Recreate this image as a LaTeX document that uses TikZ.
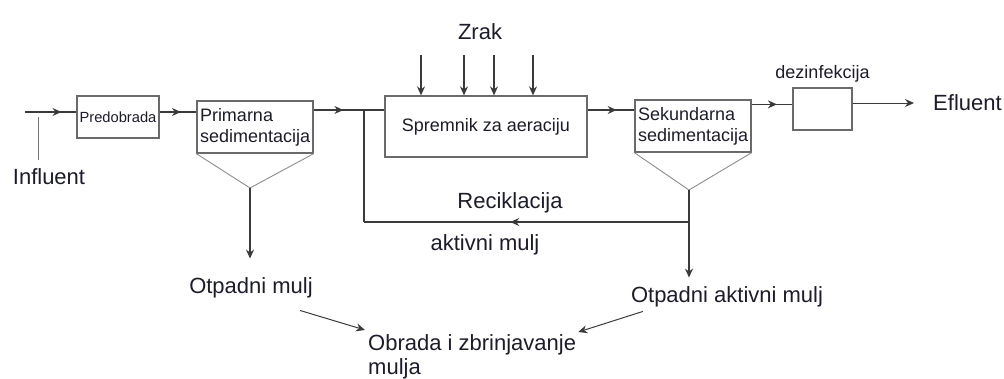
\documentclass[tikz,border=0pt]{standalone}
\usepackage{fontspec}
\setmainfont{Liberation Sans}
\usetikzlibrary{positioning, arrows.meta, decorations.markings}

\definecolor{linegray}{HTML}{3A3A3A}
\definecolor{boxgray}{HTML}{6A6A6A}
\definecolor{txt}{HTML}{1C1C2C}

\tikzset{
	box/.style={draw=boxgray, line width=1.3pt, inner sep=2pt, text=txt},
	flow/.style={draw=linegray, line width=1.3pt},
	hopper/.style={draw=black!45, line width=0.9pt},
	leader/.style={draw=black!55, line width=0.9pt},
	tip/.style={-{Stealth[length=9pt, width=8pt, inset=3pt]}},
	midarrow/.style={postaction={decorate}, decoration={markings,
		mark=at position #1 with {\arrow{Stealth[length=9pt, width=8pt, inset=3pt]}}}},
	lbl/.style={inner sep=0pt, text=txt, font=\fontsize{22}{24}\selectfont},
	inlbl/.style={text=txt, font=\fontsize{18}{21}\selectfont}
}

\begin{document}
\begin{tikzpicture}[x=1pt, y=-1pt]
	\useasboundingbox (0,0) rectangle (1004,378);

	% process boxes
	\node[box, minimum width=82pt, minimum height=42pt, font=\fontsize{14.7}{17}\selectfont] (pre) at (118,117) {Predobrada};
	\node[box, inlbl, minimum width=116pt, minimum height=52pt, text width=110pt, align=left] (prim) at (255,127) {Primarna\\sedimentacija};
	\node[box, inlbl, minimum width=202pt, minimum height=61pt] (aer) at (486,126.5) {Spremnik za aeraciju};
	\node[box, inlbl, minimum width=116pt, minimum height=52pt, text width=110pt, align=left] (sek) at (693,126) {Sekundarna\\sedimentacija};
	\node[box, minimum width=59pt, minimum height=42pt] (dez) at (822.5,109) {};
	\node[inlbl, above=2pt of dez] (dezlbl) {dezinfekcija};

	% hoppers
	\coordinate (primtip) at (250,188);
	\coordinate (sektip) at (689,190);
	\draw[hopper] (prim.south west) -- (primtip) -- (prim.south east);
	\draw[hopper] (sek.south west) -- (sektip) -- (sek.south east);

	% labels
	\node[lbl] (zrak) at (480,32) {Zrak};
	\node[lbl, anchor=west] (eff) at (933,103) {Efluent};
	\node[lbl] (infl) at (49,177) {Influent};
	\node[lbl] (recl) at (510,203) {Reciklacija};
	\node[lbl] (aktl) at (485,245) {aktivni mulj};
	\node[lbl] (otp1) at (251,288) {Otpadni mulj};
	\node[lbl] (otp2) at (727,297) {Otpadni aktivni mulj};
	\node[lbl, align=left, anchor=north west] (obr) at (368,334) {Obrada i zbrinjavanje\\mulja};

	% main line
	\coordinate (inflow) at (25,112);
	\coordinate (inftick) at (38,117);
	\coordinate (rec) at (364,110);
	\coordinate (recbot) at (364,222);
	\draw[flow, midarrow=0.71] (inflow) -- (pre.west |- inflow);
	\draw[leader] (inftick) -- ([yshift=9pt]infl.north -| inftick);
	\draw[flow, midarrow=0.58] (pre.east |- inflow) -- (prim.west |- inflow);
	\draw[flow, midarrow=0.59] (prim.east |- rec) -- (rec);
	\draw[flow] (rec) -- (aer.west |- rec);
	\draw[flow, midarrow=0.62] (aer.east |- rec) -- (sek.west |- rec);
	\draw[flow, midarrow=0.62] ([yshift=-5pt]sek.north east) -- ([yshift=-5pt]sek.north east -| dez.west);
	\draw[flow, line width=1pt, tip, shorten >=19pt] (dez.east |- eff.west) -- (eff.west);

	% air supply
	\foreach \x [count=\i] in {421,464,494,533} {
		\coordinate (air\i) at (\x,55);
		\draw[flow, tip] (air\i) -- (air\i |- aer.north);
	}

	% recycle and sludge
	\draw[flow] (rec) -- (recbot);
	\draw[flow, midarrow=0.55] (sektip |- recbot) -- (recbot);
	\draw[flow, line width=2.2pt, tip, shorten >=19pt] (primtip) -- (primtip |- otp1.north);
	\draw[flow, tip, shorten >=9pt] (sektip) -- (sektip |- otp2.north);
	\draw[flow, line width=1pt, tip] ([xshift=-13pt, yshift=-12pt]otp1.south east) -- ([xshift=-3pt, yshift=4pt]obr.north west);
	\draw[flow, line width=1pt, tip] ([xshift=12pt, yshift=-4pt]otp2.south west) -- ([xshift=2pt, yshift=2pt]obr.north east);
\end{tikzpicture}
\end{document}
